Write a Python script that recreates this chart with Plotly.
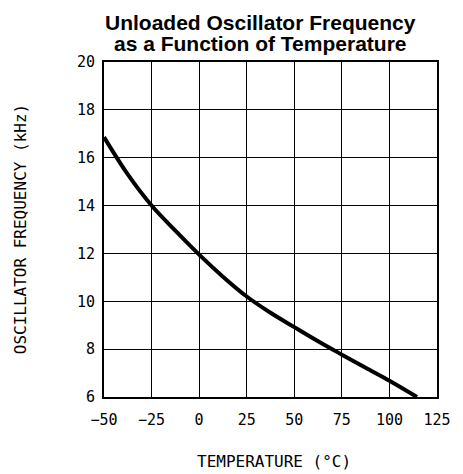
import plotly.graph_objects as go

temperature = [-50, -37.5, -25, -12.5, 0, 12.5, 25, 37.5, 50, 62.5, 75, 87.5, 100, 114.5]
frequency = [16.86, 15.3, 14.0, 12.95, 11.95, 11.03, 10.2, 9.52, 8.92, 8.33, 7.77, 7.22, 6.68, 6.0]

x_ticks = [-50, -25, 0, 25, 50, 75, 100, 125]
x_tick_text = ["\u221250", "\u221225", "0", "25", "50", "75", "100", "125"]
y_ticks = [6, 8, 10, 12, 14, 16, 18, 20]

title_lines = ["Unloaded Oscillator Frequency", "as a Function of Temperature"]
x_title = "TEMPERATURE (\u00b0C)"
y_title = "OSCILLATOR FREQUENCY (kHz)"

fig = go.Figure()
fig.add_trace(go.Scatter(
    x=temperature, y=frequency, mode="lines",
    line=dict(color="black", width=4, shape="spline"),
    showlegend=False, hoverinfo="skip"))

tick_font = dict(family="DejaVu Sans Mono", size=15, color="black")
label_font = dict(family="DejaVu Sans Mono", size=16, color="black")
title_font = dict(family="Liberation Sans", size=21, color="black")

annotations = [
    dict(text="<b>%s</b>" % title_lines[0], x=0.470, y=1.1194, xref="paper", yref="paper",
         xanchor="center", yanchor="middle", showarrow=False, font=title_font),
    dict(text="<b>%s</b>" % title_lines[1], x=0.470, y=1.0567, xref="paper", yref="paper",
         xanchor="center", yanchor="middle", showarrow=False, font=title_font),
    dict(text=x_title, x=0.51, y=-0.194, xref="paper", yref="paper",
         xanchor="center", yanchor="middle", showarrow=False, font=label_font),
    dict(text=y_title, x=-0.25, y=0.5, xref="paper", yref="paper", textangle=-90,
         xanchor="center", yanchor="middle", showarrow=False, font=label_font),
]

fig.update_layout(
    width=455, height=466,
    margin=dict(l=96, r=23, t=54, b=77),
    paper_bgcolor="white", plot_bgcolor="white",
    annotations=annotations,
    xaxis=dict(
        range=[-50, 125], tickvals=x_ticks, ticktext=x_tick_text,
        showgrid=True, gridcolor="black", gridwidth=1,
        showline=True, linecolor="black", linewidth=2, mirror=True,
        zeroline=False, ticks="outside", ticklen=8, tickcolor="rgba(0,0,0,0)",
        tickfont=tick_font),
    yaxis=dict(
        range=[6, 20], tickvals=y_ticks,
        showgrid=True, gridcolor="black", gridwidth=1,
        showline=True, linecolor="black", linewidth=2, mirror=True,
        zeroline=False, ticks="outside", ticklen=4, tickcolor="rgba(0,0,0,0)",
        tickfont=tick_font),
)

fig.write_html("out.html")
